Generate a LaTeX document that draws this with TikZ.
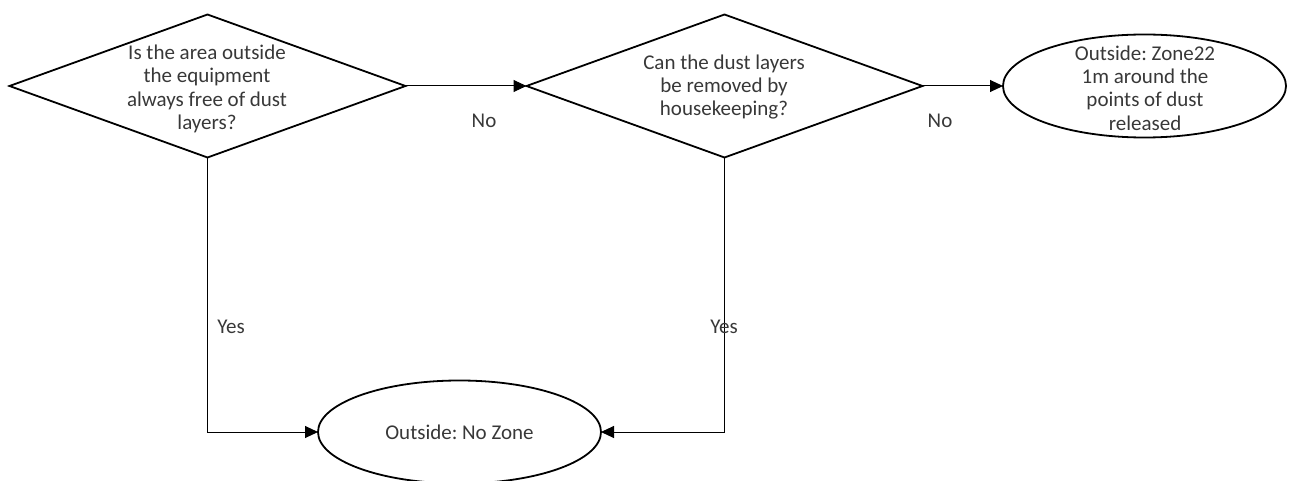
\documentclass[tikz,border=0pt]{standalone}
\usepackage{fontspec}
\setmainfont{Carlito}
\frenchspacing
\usetikzlibrary{shapes.geometric,arrows.meta}
\begin{document}
\begin{tikzpicture}[x=1pt,y=-1pt,
  every node/.style={font=\fontsize{21}{23.2}\selectfont, text=black!78},
  decision/.style={draw=black, shape=diamond, line width=1.8pt, minimum width=396pt, minimum height=143pt, inner sep=0pt, outer sep=0pt},
  terminal/.style={draw=black, shape=ellipse, line width=1.8pt, minimum width=283pt, minimum height=103pt, inner sep=0pt, outer sep=0pt},
  txt/.style={align=center, inner sep=0pt},
  conn/.style={draw=black, line width=1pt, -{Triangle[length=13pt,width=12pt]}},
  lbl/.style={inner sep=0pt}]
\useasboundingbox (0,0) rectangle (1295,481);
\node[decision] (d1) at (207.5,86) {};
\node[txt] (t1) at (207,89) {Is the area outside\\the equipment\\always free of dust\\layers?};
\node[decision] (d2) at (724.5,86) {};
\node[txt] (t2) at (724,87) {Can the dust layers\\be removed by\\housekeeping?};
\node[terminal] (e1) at (1144.5,86) {};
\node[txt] (t3) at (1145,88) {Outside: Zone22\\1m around the\\points of dust\\released};
\node[terminal] (e2) at (459.5,432) {Outside: No Zone};
\draw[conn] (d1.east) -- (d2.west);
\draw[conn] (d2.east) -- (e1.west);
\draw[conn] (d1.south) |- (e2.west);
\draw[conn] (d2.south) |- (e2.east);
\node[lbl] (n1) at (484,121) {No};
\node[lbl] (n2) at (940,121) {No};
\node[lbl] (y1) at (231,327) {Yes};
\node[lbl] (y2) at (724,327) {Yes};
\end{tikzpicture}
\end{document}
